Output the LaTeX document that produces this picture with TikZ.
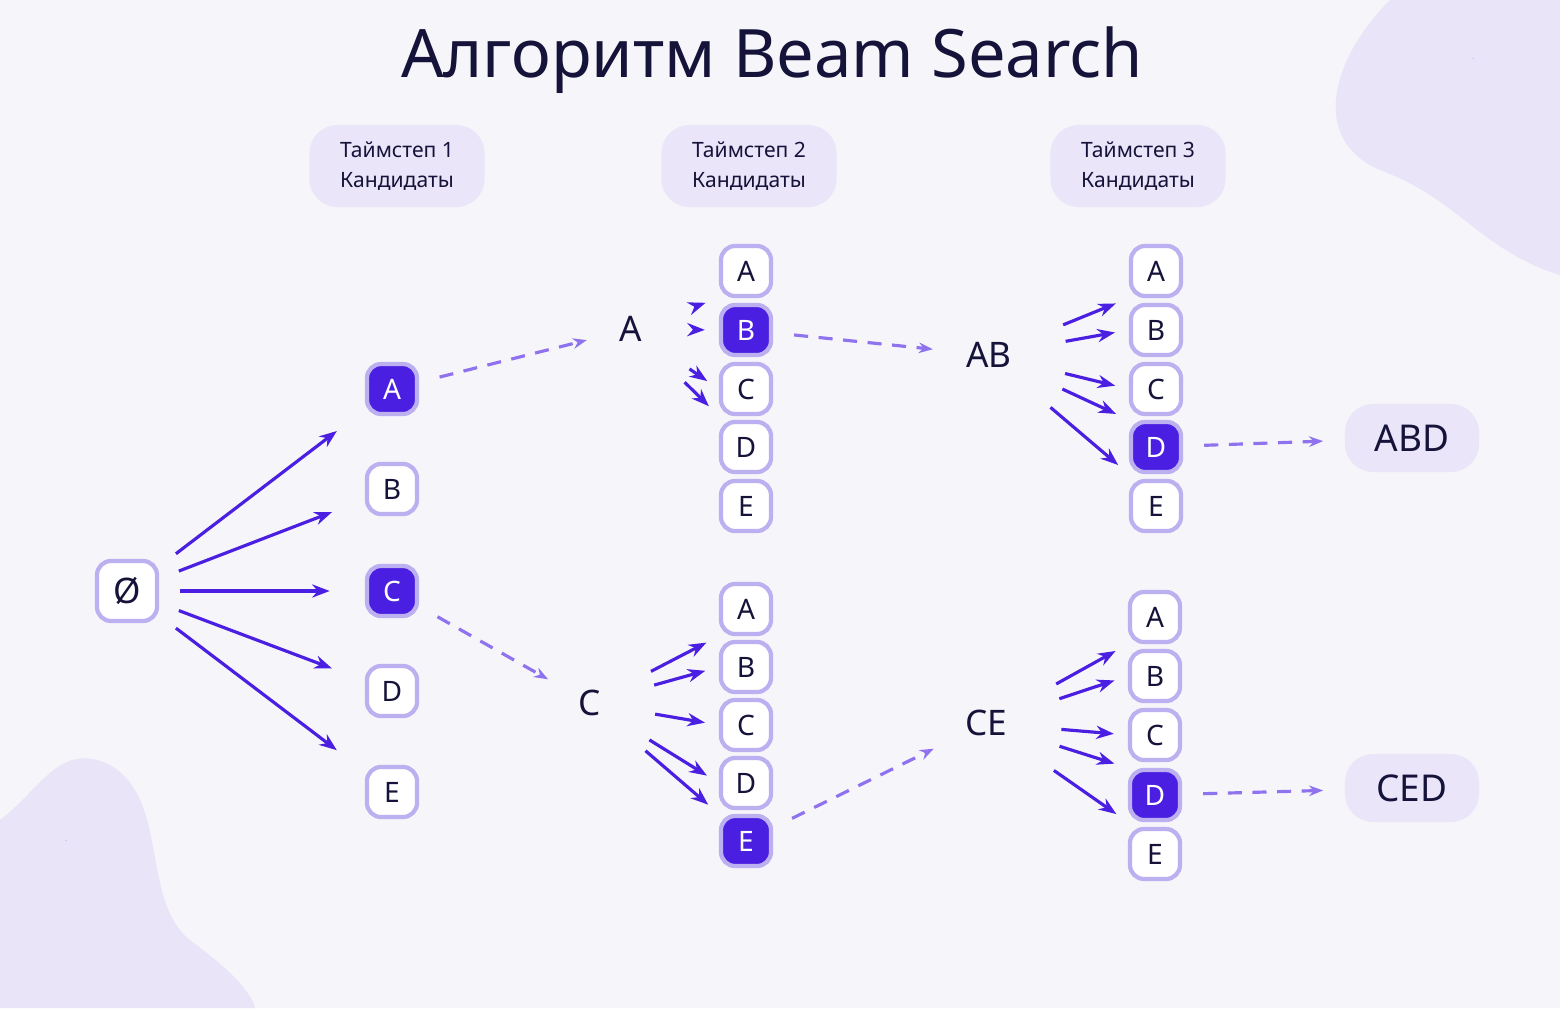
\documentclass[tikz,border=0pt]{standalone}
\usepackage{fontspec}
\setmainfont{Noto Sans}
\usetikzlibrary{arrows.meta,positioning}
\definecolor{bgcol}{HTML}{F6F5FA}
\definecolor{ink}{HTML}{16133A}
\definecolor{violet}{HTML}{4A1FE2}
\definecolor{edge}{HTML}{BDB0F0}
\definecolor{pale}{HTML}{EAE5F8}
\definecolor{blob}{HTML}{E9E4F8}
\definecolor{starc}{HTML}{A58BF2}
\definecolor{dashc}{HTML}{8F72EE}
\tikzset{
  box/.style={draw=edge, line width=1.2pt, fill=white, rounded corners=4pt,
    minimum width=0.5cm, minimum height=0.5cm, text=ink, font=\bfseries\fontsize{8}{9}\selectfont},
  pick/.style={box, fill=violet, text=white},
  lbl/.style={text=ink, font=\bfseries\fontsize{10}{12}\selectfont},
  head/.style={fill=pale, rounded corners=8pt, minimum width=1.75cm, minimum height=0.82cm,
    align=center, text=ink, font=\bfseries\fontsize{6}{8.5}\selectfont},
  res/.style={fill=pale, rounded corners=8pt, minimum width=1.34cm, minimum height=0.68cm,
    text=ink, font=\bfseries\fontsize{10.5}{12}\selectfont},
  arr/.style={-{Stealth[length=5pt]}, violet, line width=0.9pt, shorten >=4pt, shorten <=12pt},
  picked/.style={-{Stealth[length=4pt]}, dashc, line width=0.9pt, dash pattern=on 4pt off 3pt, shorten >=6pt, shorten <=6pt},
  star/.style={fill=starc}
}
\newcommand{\sparkle}[3]{\fill[star] (#1,#2) -- ++(0.1*#3,0.3*#3) -- ++(0.3*#3,0.1*#3) -- ++(-0.3*#3,0.1*#3) -- ++(-0.1*#3,0.3*#3) -- ++(-0.1*#3,-0.3*#3) -- ++(-0.3*#3,-0.1*#3) -- ++(0.3*#3,-0.1*#3) -- cycle;}
\begin{document}
\begin{tikzpicture}[x=0.01cm,y=-0.01cm]
\fill[bgcol] (0,0) rectangle (1560,1008);
\useasboundingbox (0,0) rectangle (1560,1008);
% corner blobs
\fill[blob] (1390,0) .. controls (1330,60) and (1310,140) .. (1380,170)
  .. controls (1460,200) and (1480,250) .. (1560,275) -- (1560,0) -- cycle;
\fill[blob] (0,820) .. controls (40,790) and (60,740) .. (110,765)
  .. controls (170,800) and (140,900) .. (190,940)
  .. controls (230,970) and (250,990) .. (255,1008) -- (0,1008) -- cycle;
\sparkle{1473}{58}{1.3}
\sparkle{66}{840}{1.3}
% title
\node[text=ink, font=\bfseries\fontsize{19}{22}\selectfont] (title) at (772,60) {Алгоритм Beam Search};
% headers
\node[head] (h1) at (397,166) {Таймстеп 1\\Кандидаты};
\node[head] (h2) at (749,166) {Таймстеп 2\\Кандидаты};
\node[head] (h3) at (1138,166) {Таймстеп 3\\Кандидаты};
% start
\node[box, minimum width=0.6cm, minimum height=0.6cm, font=\bfseries\fontsize{10}{12}\selectfont] (z) at (127,591) {Ø};
% timestep 1
\node[pick] (a1) at (392,389) {A};
\node[box] (b1) at (392,489) {B};
\node[pick] (c1) at (392,591) {C};
\node[box] (d1) at (392,691) {D};
\node[box] (e1) at (392,792) {E};
\foreach \n in {a1,b1,c1,d1,e1} \draw[arr, shorten >=10pt, shorten <=6pt] (z) -- (\n);
% timestep 2, upper
\node[lbl] (pA) at (631,329) {A};
\node[box] (ta) at (746,271) {A};
\node[pick] (tb) at (746,330) {B};
\node[box] (tc) at (746,389) {C};
\node[box] (td) at (746,447) {D};
\node[box] (te) at (746,506) {E};
\foreach \n in {ta.south west,tb.west,tc.west,tc.south west} \draw[arr] (pA) -- (\n);
% timestep 2, lower
\node[lbl] (pC) at (590,703) {C};
\node[box] (ua) at (746,609) {A};
\node[box] (ub) at (746,667) {B};
\node[box] (uc) at (746,725) {C};
\node[box] (ud) at (746,783) {D};
\node[pick] (ue) at (746,841) {E};
\foreach \n in {ua.south west,ub.west,uc.west,ud.west,ue.north west} \draw[arr] (pC) -- (\n);
% timestep 3, upper
\node[lbl] (pAB) at (989,355) {AB};
\node[box] (va) at (1156,271) {A};
\node[box] (vb) at (1156,330) {B};
\node[box] (vc) at (1156,389) {C};
\node[pick] (vd) at (1156,447) {D};
\node[box] (ve) at (1156,506) {E};
\foreach \n in {va.south west,vb.west,vc.west,vd.north west,vd.south west} \draw[arr] (pAB) -- (\n);
% timestep 3, lower
\node[lbl] (pCE) at (986,723) {CE};
\node[box] (wa) at (1155,617) {A};
\node[box] (wb) at (1155,676) {B};
\node[box] (wc) at (1155,735) {C};
\node[pick] (wd) at (1155,795) {D};
\node[box] (we) at (1155,854) {E};
\foreach \n in {wa.south west,wb.west,wc.west,wd.north west,wd.south west} \draw[arr] (pCE) -- (\n);
% results
\node[res] (r1) at (1412,438) {ABD};
\node[res] (r2) at (1412,788) {CED};
% chosen paths
\draw[picked] (a1) -- (pA);
\draw[picked] (c1) -- (pC);
\draw[picked] (tb) -- (pAB);
\draw[picked] (ue) -- (pCE);
\draw[picked] (vd) -- (r1);
\draw[picked] (wd) -- (r2);
\end{tikzpicture}
\end{document}
